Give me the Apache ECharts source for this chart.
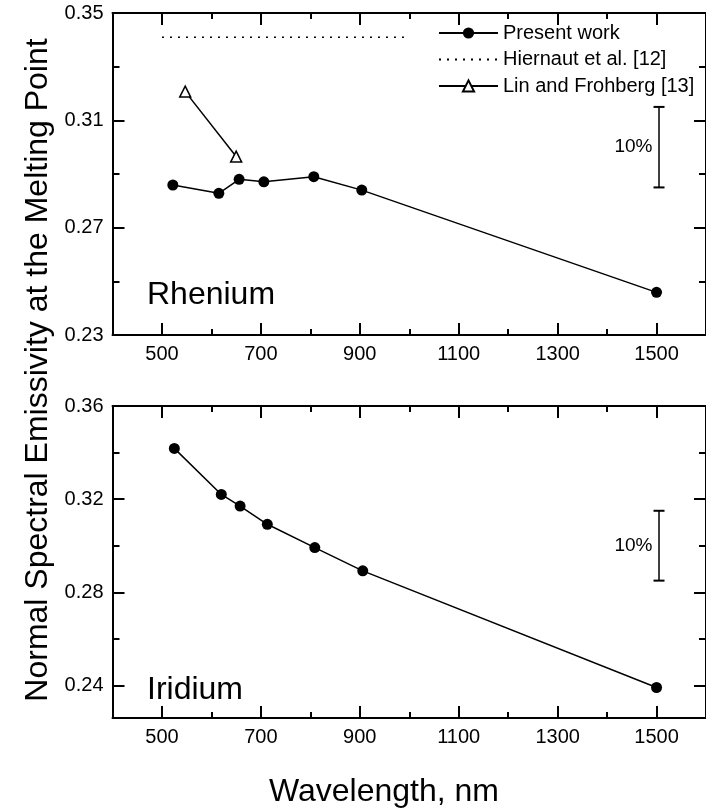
<!DOCTYPE html>
<html><head><meta charset="utf-8">
<script src="https://cdn.jsdelivr.net/npm/echarts@6/dist/echarts.min.js"></script>
<style>html,body{margin:0;padding:0;background:#fff}#c{width:706px;height:812px}</style>
</head><body><div id="c"></div>
<script>
// ---- data ----
const wavelengthsRe = [522, 615, 656, 706, 807, 904, 1500];
const presentRe = [0.2859, 0.2828, 0.2880, 0.2871, 0.2890, 0.2840, 0.2459];
const hiernautX = [500, 1000];
const hiernautY = [0.3410, 0.3410];
const linX = [547, 650];
const linY = [0.3207, 0.2965];
const wavelengthsIr = [525, 620, 658, 713, 809, 906, 1500];
const presentIr = [0.3418, 0.3220, 0.3170, 0.3092, 0.2992, 0.2892, 0.2391];
const errBarX = [1505, 1505];
const errBarRe = [0.285, 0.315];
const errBarIr = [0.285, 0.315];
const errLabelPos = [1505, 0.300];
const xMajorTicks = [500, 700, 900, 1100, 1300, 1500];
const xMinorTicks = [600, 800, 1000, 1200, 1400, 1600];
const yMajorRe = [0.23, 0.27, 0.31, 0.35];
const yMinorRe = [0.25, 0.29, 0.33];
const yMajorIr = [0.24, 0.28, 0.32, 0.36];
const yMinorIr = [0.26, 0.30, 0.34];
const seriesNames = ['Present work', 'Hiernaut et al. [12]', 'Lin and Frohberg [13]'];

const F = '"Liberation Sans", Arial, Helvetica, sans-serif';
const K = '#000';
const zip = (a, b) => a.map((v, i) => [v, b[i]]);

function xAxes(g) {
  const base = {type: 'value', gridIndex: g, min: 400, max: 1600, splitLine: {show: false}};
  const line = {show: true, onZero: false, lineStyle: {color: K, width: 2}};
  const tk = (len, vals) => ({show: true, inside: true, length: len, customValues: vals, lineStyle: {color: K, width: 2}});
  return [
    Object.assign({}, base, {position: 'bottom', axisLine: line, axisTick: tk(12, xMajorTicks),
      axisLabel: {show: true, customValues: xMajorTicks, margin: 9, color: K, fontSize: 20, fontFamily: F,
        formatter: v => String(Math.round(v))}}),
    Object.assign({}, base, {position: 'bottom', axisLine: {show: false}, axisTick: tk(6, xMinorTicks), axisLabel: {show: false}}),
    Object.assign({}, base, {position: 'top', axisLine: line, axisTick: tk(12, xMajorTicks), axisLabel: {show: false}}),
    Object.assign({}, base, {position: 'top', axisLine: {show: false}, axisTick: tk(6, xMinorTicks), axisLabel: {show: false}})
  ];
}
function yAxes(g, mn, mx, major, minor) {
  const base = {type: 'value', gridIndex: g, min: mn, max: mx, splitLine: {show: false}};
  const line = {show: true, onZero: false, lineStyle: {color: K, width: 2}};
  const tk = (len, vals) => ({show: true, inside: true, length: len, customValues: vals, lineStyle: {color: K, width: 2}});
  return [
    Object.assign({}, base, {position: 'left', axisLine: line, axisTick: tk(12, major),
      axisLabel: {show: true, customValues: major, margin: 9, color: K, fontSize: 20, fontFamily: F,
        formatter: v => Number(v).toFixed(2)}}),
    Object.assign({}, base, {position: 'left', axisLine: {show: false}, axisTick: tk(7, minor), axisLabel: {show: false}}),
    Object.assign({}, base, {position: 'right', axisLine: line, axisTick: tk(12, major), axisLabel: {show: false}}),
    Object.assign({}, base, {position: 'right', axisLine: {show: false}, axisTick: tk(7, minor), axisLabel: {show: false}})
  ];
}

const lineBase = {type: 'line', symbol: 'circle', symbolSize: 11, itemStyle: {color: K},
  lineStyle: {color: K, width: 1.5}, emphasis: {disabled: true}, animation: false, z: 3};

function errSeries(xi, yi, ys) {
  return [
    {type: 'line', xAxisIndex: xi, yAxisIndex: yi, data: zip(errBarX, ys), symbol: 'rect', symbolSize: [11, 2],
      itemStyle: {color: K}, lineStyle: {color: K, width: 1.5}, animation: false, silent: true},
    {type: 'scatter', xAxisIndex: xi, yAxisIndex: yi, data: [errLabelPos], symbolSize: 1, itemStyle: {color: 'rgba(0,0,0,0)'},
      animation: false, silent: true,
      label: {show: true, position: 'left', distance: 6, formatter: '10%', color: '#000', opacity: 1, fontSize: 19, fontFamily: F}}
  ];
}

const option = {
  backgroundColor: '#fff',
  animation: false,
  grid: [
    {left: 112.5, right: -6, top: 13, height: 322},
    {left: 112.5, right: -6, top: 406, height: 312}
  ],
  xAxis: xAxes(0).concat(xAxes(1)),
  yAxis: yAxes(0, 0.23, 0.35, yMajorRe, yMinorRe).concat(yAxes(1, 0.226, 0.36, yMajorIr, yMinorIr)),
  legend: {
    data: [
      {name: seriesNames[0]},
      {name: seriesNames[1], itemStyle: {color: 'rgba(0,0,0,0)', borderWidth: 0, opacity: 0}},
      {name: seriesNames[2]}
    ],
    orient: 'vertical', left: 438, top: 23, itemWidth: 59, itemHeight: 14, itemGap: 6.5,
    textStyle: {color: K, fontSize: 20, fontFamily: F, lineHeight: 20}, selectedMode: false, padding: 0
  },
  series: [
    Object.assign({}, lineBase, {name: seriesNames[0], xAxisIndex: 0, yAxisIndex: 0, data: zip(wavelengthsRe, presentRe)}),
    {type: 'line', name: seriesNames[1], xAxisIndex: 0, yAxisIndex: 0, data: zip(hiernautX, hiernautY), symbol: 'none',
      itemStyle: {color: K}, lineStyle: {color: K, width: 1.5, type: [2, 6]}, animation: false},
    Object.assign({}, lineBase, {name: seriesNames[2], xAxisIndex: 0, yAxisIndex: 0, data: zip(linX, linY), symbol: 'triangle', symbolSize: 11,
      itemStyle: {color: '#fff', borderColor: K, borderWidth: 1.5}}),
    Object.assign({}, lineBase, {name: seriesNames[0], xAxisIndex: 4, yAxisIndex: 4, data: zip(wavelengthsIr, presentIr)})
  ].concat(errSeries(0, 0, errBarRe)).concat(errSeries(4, 4, errBarIr)),
  graphic: [
    {type: 'text', x: 38, y: 370, rotation: Math.PI / 2, style: {text: 'Normal Spectral Emissivity at the Melting Point',
      fill: K, fontSize: 32, fontFamily: F, align: 'center', verticalAlign: 'middle'}},
    {type: 'text', x: 147, y: 295, style: {text: 'Rhenium', fill: K, fontSize: 32, fontFamily: F, align: 'left', verticalAlign: 'middle'}},
    {type: 'text', x: 147, y: 690, style: {text: 'Iridium', fill: K, fontSize: 32, fontFamily: F, align: 'left', verticalAlign: 'middle'}},
    {type: 'text', x: 384, y: 792, style: {text: 'Wavelength, nm', fill: K, fontSize: 32, fontFamily: F, align: 'center', verticalAlign: 'middle'}}
  ]
};
const chart = echarts.init(document.getElementById('c'), null, {renderer: 'canvas'});
chart.setOption(option);
</script></body></html>
